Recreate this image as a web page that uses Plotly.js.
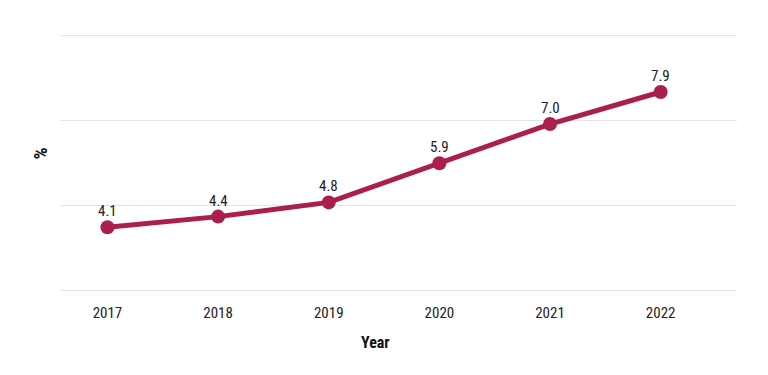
<!DOCTYPE html>
<html>
<head>
<meta charset="utf-8">
<script src="https://cdn.plot.ly/plotly-3.0.1.min.js"></script>
<style>
  html, body { margin: 0; padding: 0; background: #ffffff; }
  #chart { width: 768px; height: 375px; }
</style>
</head>
<body>
<div id="chart"></div>
<script>
const years = ["2017", "2018", "2019", "2020", "2021", "2022"];
const values = [4.1, 4.4, 4.8, 5.9, 7.0, 7.9];
const valueLabels = ["4.1", "4.4", "4.8", "5.9", "7.0", "7.9"];
const gridValues = [2.32, 4.72, 7.11, 9.5];

const FONT = '"Liberation Sans Narrow", "Arial Narrow", "Roboto Condensed", Roboto, sans-serif';
const COLOR = '#AA1E50';

const trace = {
  x: years,
  y: values,
  type: 'scatter',
  mode: 'lines+markers',
  line: { color: COLOR, width: 5 },
  marker: { color: COLOR, size: 14 },
  hoverinfo: 'x+y',
  cliponaxis: false
};

// category axis: annotation x given as the category index
const labelAnnotations = years.map((yr, i) => ({
  x: i,
  y: values[i],
  xref: 'x', yref: 'y',
  text: valueLabels[i],
  showarrow: false,
  xanchor: 'center',
  yanchor: 'middle',
  yshift: 16,
  font: { family: FONT, size: 15, color: '#222222' }
}));

const layout = {
  width: 768,
  height: 375,
  margin: { l: 61, r: 31, t: 31, b: 83 },
  paper_bgcolor: '#ffffff',
  plot_bgcolor: '#ffffff',
  showlegend: false,
  font: { family: FONT, size: 15, color: '#222222' },
  xaxis: {
    type: 'category',
    range: [-0.42, 5.69],
    showgrid: false,
    zeroline: false,
    showline: false,
    ticks: '',
    tickfont: { family: FONT, size: 15, color: '#222222' },
    ticklabelstandoff: 10,
    fixedrange: true
  },
  yaxis: {
    range: [2.283, 9.613],
    tickmode: 'array',
    tickvals: gridValues,
    showticklabels: false,
    showgrid: true,
    gridcolor: '#e3e3e3',
    gridwidth: 1,
    zeroline: false,
    showline: false,
    ticks: '',
    fixedrange: true
  },
  annotations: labelAnnotations.concat([
    {
      text: '<b>Year</b>',
      xref: 'paper', yref: 'paper',
      x: 0.465, y: 0,
      xanchor: 'center', yanchor: 'middle',
      yshift: -50,
      showarrow: false,
      font: { family: FONT, size: 16, color: '#111111' }
    },
    {
      text: '<b>%</b>',
      xref: 'paper', yref: 'paper',
      x: 0, y: 0.5,
      xanchor: 'center', yanchor: 'middle',
      xshift: -21, yshift: 8,
      textangle: -90,
      showarrow: false,
      font: { family: FONT, size: 19, color: '#111111' }
    }
  ])
};

Plotly.newPlot('chart', [trace], layout, { displayModeBar: false, staticPlot: true });
</script>
</body>
</html>
